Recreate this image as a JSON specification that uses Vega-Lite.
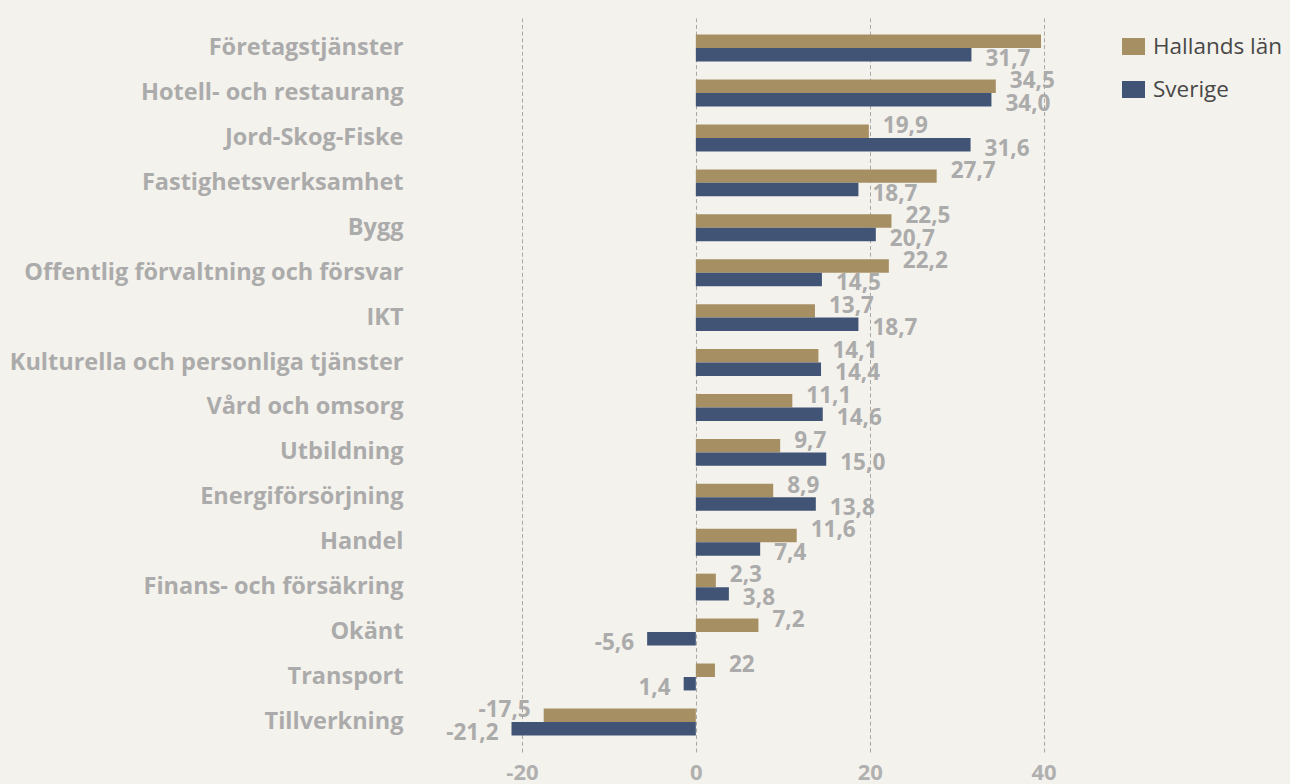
{
  "$schema": "https://vega.github.io/schema/vega-lite/v6.json",
  "width": 626,
  "height": 734,
  "autosize": {"type": "none"},
  "padding": {"left": 435, "top": 18, "right": 229, "bottom": 32},
  "background": "#F4F2EC",
  "config": {"view": {"stroke": null}, "font": "Open Sans"},
  "data": {"values": [
    {"category": "Företagstjänster", "series": "Hallands län", "value": 39.7, "label": ""},
    {"category": "Företagstjänster", "series": "Sverige", "value": 31.7, "label": "31,7"},
    {"category": "Hotell- och restaurang", "series": "Hallands län", "value": 34.5, "label": "34,5"},
    {"category": "Hotell- och restaurang", "series": "Sverige", "value": 34.0, "label": "34,0"},
    {"category": "Jord-Skog-Fiske", "series": "Hallands län", "value": 19.9, "label": "19,9"},
    {"category": "Jord-Skog-Fiske", "series": "Sverige", "value": 31.6, "label": "31,6"},
    {"category": "Fastighetsverksamhet", "series": "Hallands län", "value": 27.7, "label": "27,7"},
    {"category": "Fastighetsverksamhet", "series": "Sverige", "value": 18.7, "label": "18,7"},
    {"category": "Bygg", "series": "Hallands län", "value": 22.5, "label": "22,5"},
    {"category": "Bygg", "series": "Sverige", "value": 20.7, "label": "20,7"},
    {"category": "Offentlig förvaltning och försvar", "series": "Hallands län", "value": 22.2, "label": "22,2"},
    {"category": "Offentlig förvaltning och försvar", "series": "Sverige", "value": 14.5, "label": "14,5"},
    {"category": "IKT", "series": "Hallands län", "value": 13.7, "label": "13,7"},
    {"category": "IKT", "series": "Sverige", "value": 18.7, "label": "18,7"},
    {"category": "Kulturella och personliga tjänster", "series": "Hallands län", "value": 14.1, "label": "14,1"},
    {"category": "Kulturella och personliga tjänster", "series": "Sverige", "value": 14.4, "label": "14,4"},
    {"category": "Vård och omsorg", "series": "Hallands län", "value": 11.1, "label": "11,1"},
    {"category": "Vård och omsorg", "series": "Sverige", "value": 14.6, "label": "14,6"},
    {"category": "Utbildning", "series": "Hallands län", "value": 9.7, "label": "9,7"},
    {"category": "Utbildning", "series": "Sverige", "value": 15.0, "label": "15,0"},
    {"category": "Energiförsörjning", "series": "Hallands län", "value": 8.9, "label": "8,9"},
    {"category": "Energiförsörjning", "series": "Sverige", "value": 13.8, "label": "13,8"},
    {"category": "Handel", "series": "Hallands län", "value": 11.6, "label": "11,6"},
    {"category": "Handel", "series": "Sverige", "value": 7.4, "label": "7,4"},
    {"category": "Finans- och försäkring", "series": "Hallands län", "value": 2.3, "label": "2,3"},
    {"category": "Finans- och försäkring", "series": "Sverige", "value": 3.8, "label": "3,8"},
    {"category": "Okänt", "series": "Hallands län", "value": 7.2, "label": "7,2"},
    {"category": "Okänt", "series": "Sverige", "value": -5.6, "label": "-5,6"},
    {"category": "Transport", "series": "Hallands län", "value": 2.2, "label": "22"},
    {"category": "Transport", "series": "Sverige", "value": -1.4, "label": "1,4"},
    {"category": "Tillverkning", "series": "Hallands län", "value": -17.5, "label": "-17,5"},
    {"category": "Tillverkning", "series": "Sverige", "value": -21.2, "label": "-21,2"}
  ]},
  "encoding": {
    "y": {
      "field": "category", "type": "nominal", "sort": null,
      "scale": {"paddingInner": 0.4, "paddingOuter": 0.37},
      "axis": {"title": null, "ticks": false, "domain": false, "grid": false,
        "labelFont": "Open Sans", "labelFontWeight": "bold", "labelFontSize": 23.5,
        "labelColor": "#ABABAB", "labelPadding": 32, "labelLimit": 600}
    },
    "yOffset": {"field": "series", "type": "nominal", "sort": ["Hallands län", "Sverige"]},
    "x": {
      "field": "value", "type": "quantitative",
      "scale": {"domain": [-30, 42], "nice": false, "zero": false},
      "axis": {"title": null, "values": [-20, 0, 20, 40], "grid": true,
        "labelExpr": "'' + datum.value",
        "gridDash": [4, 2.7], "gridColor": "#A8A8A8", "gridWidth": 1,
        "domain": false, "ticks": false, "labelFont": "Open Sans",
        "labelFontWeight": "bold", "labelFontSize": 22, "labelColor": "#B0B0B0",
        "labelPadding": 10}
    }
  },
  "layer": [
    {
      "mark": {"type": "bar"},
      "encoding": {
        "color": {
          "field": "series", "type": "nominal",
          "scale": {"domain": ["Hallands län", "Sverige"], "range": ["#A68F63", "#415476"]},
          "legend": {"title": null, "orient": "none", "legendX": 687, "legendY": 17,
            "symbolType": "M-1,-0.74H1V0.74H-1Z", "symbolSize": 529,
            "symbolStrokeWidth": 0, "labelFont": "Open Sans", "labelFontSize": 22.5,
            "labelColor": "#484848", "labelOffset": 8, "rowPadding": 20, "padding": 0}
        }
      }
    },
    {
      "transform": [{"filter": "datum.value >= 0 && datum.series == 'Hallands län'"}],
      "mark": {"type": "text", "align": "left", "baseline": "middle", "dx": 14, "dy": -5,
        "font": "Open Sans", "fontWeight": "bold", "fontSize": 22.5, "color": "#ABABAB"},
      "encoding": {"text": {"field": "label"}}
    },
    {
      "transform": [{"filter": "datum.value >= 0 && datum.series == 'Sverige'"}],
      "mark": {"type": "text", "align": "left", "baseline": "middle", "dx": 14, "dy": 4,
        "font": "Open Sans", "fontWeight": "bold", "fontSize": 22.5, "color": "#ABABAB"},
      "encoding": {"text": {"field": "label"}}
    },
    {
      "transform": [{"filter": "datum.value < 0 && datum.series == 'Hallands län'"}],
      "mark": {"type": "text", "align": "right", "baseline": "middle", "dx": -13, "dy": -5,
        "font": "Open Sans", "fontWeight": "bold", "fontSize": 22.5, "color": "#ABABAB"},
      "encoding": {"text": {"field": "label"}}
    },
    {
      "transform": [{"filter": "datum.value < 0 && datum.series == 'Sverige'"}],
      "mark": {"type": "text", "align": "right", "baseline": "middle", "dx": -13, "dy": 4,
        "font": "Open Sans", "fontWeight": "bold", "fontSize": 22.5, "color": "#ABABAB"},
      "encoding": {"text": {"field": "label"}}
    }
  ]
}
